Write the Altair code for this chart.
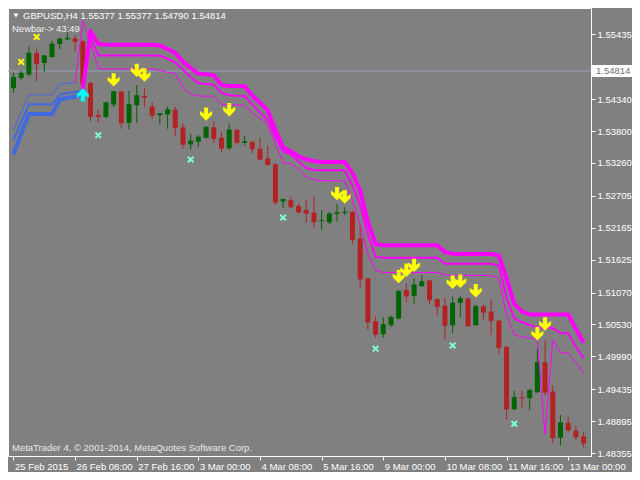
import altair as alt
import pandas as pd

# ---------------- data (GBPUSD H4) ----------------
opens = [1.54523, 1.54697, 1.54754, 1.55117, 1.54952, 1.55051, 1.55270, 1.55348, 1.55369, 1.55315,
         1.54610, 1.54070, 1.54037, 1.54247, 1.54466, 1.53938, 1.54236, 1.54391, 1.54214, 1.54070,
         1.54082, 1.54160, 1.53863, 1.53575, 1.53620, 1.53686, 1.53863, 1.53686, 1.53509, 1.53818,
         1.53599, 1.53620, 1.53500, 1.53335, 1.53236, 1.52609, 1.52630, 1.52531, 1.52465, 1.52420,
         1.52279, 1.52255, 1.52399, 1.52420, 1.52432, 1.51982, 1.51310, 1.50584, 1.50365, 1.50518,
         1.50629, 1.51112, 1.51013, 1.51178, 1.51277, 1.50959, 1.50848, 1.50518, 1.50893, 1.50968,
         1.50518, 1.50836, 1.50749, 1.50596, 1.50155, 1.49099, 1.49297, 1.49286, 1.49384, 1.49891,
         1.49396, 1.48616, 1.48868, 1.48736, 1.48637]
highs = [1.54787, 1.54820, 1.55237, 1.55192, 1.55084, 1.55324, 1.55381, 1.55468, 1.55423, 1.55336,
         1.54631, 1.54160, 1.54280, 1.54478, 1.54478, 1.54478, 1.54577, 1.54523, 1.54292, 1.54094,
         1.54214, 1.54214, 1.53929, 1.53752, 1.53731, 1.53884, 1.53962, 1.53785, 1.53929, 1.53839,
         1.53719, 1.53620, 1.53686, 1.53554, 1.53257, 1.52663, 1.52685, 1.52576, 1.52630, 1.52696,
         1.52465, 1.52432, 1.52564, 1.52510, 1.52453, 1.52234, 1.51310, 1.50671, 1.50650, 1.50683,
         1.51112, 1.51223, 1.51310, 1.51364, 1.51289, 1.50968, 1.50980, 1.51001, 1.51013, 1.50992,
         1.50860, 1.50869, 1.50959, 1.50605, 1.50155, 1.49408, 1.49408, 1.49441, 1.50122, 1.50266,
         1.49507, 1.49000, 1.48967, 1.48814, 1.48715]
lows = [1.54445, 1.54655, 1.54721, 1.54643, 1.54796, 1.55039, 1.55183, 1.55336, 1.55150, 1.54577,
        1.53962, 1.53950, 1.54016, 1.54202, 1.53839, 1.53830, 1.53938, 1.54202, 1.54004, 1.53906,
        1.53839, 1.53707, 1.53500, 1.53488, 1.53533, 1.53674, 1.53599, 1.53434, 1.53476, 1.53566,
        1.53554, 1.53422, 1.53302, 1.53212, 1.52552, 1.52498, 1.52498, 1.52411, 1.52246, 1.52168,
        1.52135, 1.52222, 1.52267, 1.52378, 1.51892, 1.51145, 1.50440, 1.50308, 1.50308, 1.50485,
        1.50617, 1.50902, 1.50881, 1.51166, 1.50869, 1.50683, 1.50275, 1.50386, 1.50650, 1.50497,
        1.50506, 1.50605, 1.50353, 1.50035, 1.48922, 1.49078, 1.49132, 1.49087, 1.49375, 1.49330,
        1.48526, 1.48484, 1.48703, 1.48583, 1.48451]
closes = [1.54709, 1.54775, 1.55117, 1.54940, 1.55072, 1.55270, 1.55357, 1.55369, 1.55315, 1.54598,
          1.54049, 1.54049, 1.54280, 1.54466, 1.53938, 1.54247, 1.54400, 1.54367, 1.54070, 1.54094,
          1.54160, 1.53863, 1.53575, 1.53632, 1.53698, 1.53863, 1.53674, 1.53509, 1.53818, 1.53608,
          1.53620, 1.53500, 1.53323, 1.53236, 1.52597, 1.52642, 1.52519, 1.52432, 1.52411, 1.52267,
          1.52288, 1.52399, 1.52420, 1.52432, 1.51970, 1.51298, 1.50572, 1.50365, 1.50530, 1.50650,
          1.51091, 1.51013, 1.51199, 1.51256, 1.50947, 1.50836, 1.50518, 1.50893, 1.50968, 1.50506,
          1.50836, 1.50737, 1.50596, 1.50143, 1.49099, 1.49297, 1.49286, 1.49417, 1.49891, 1.49384,
          1.48616, 1.48868, 1.48748, 1.48630, 1.48526]

# indicator bands (downtrend, magenta) -- thick / medium / thin
mag_thick_start = 9
mag_thick = [1.54511, 1.55493, 1.55270,
             1.55258, 1.55258, 1.55258, 1.55258, 1.55258, 1.55258, 1.55258,
             1.55245, 1.55188, 1.55122, 1.54973, 1.54866, 1.54767, 1.54759, 1.54742, 1.54577, 1.54561,
             1.54561, 1.54556, 1.54396, 1.54280, 1.54148, 1.53818, 1.53521, 1.53455, 1.53373, 1.53323,
             1.53290, 1.53278, 1.53278, 1.53278, 1.53278, 1.53092, 1.52795, 1.52267, 1.51888,
             1.51871, 1.51871, 1.51871, 1.51871, 1.51871, 1.51871, 1.51871, 1.51871,
             1.51756, 1.51723, 1.51723, 1.51723, 1.51723, 1.51723, 1.51723,
             1.51698, 1.51310, 1.50881, 1.50749,
             1.50700, 1.50700, 1.50700, 1.50700, 1.50700, 1.50700, 1.50452, 1.50221]
mag_mid_start = 9
mag_mid = [1.54511, 1.55386, 1.55077,
           1.55077, 1.55077, 1.55077, 1.55077, 1.55077, 1.55077, 1.55077,
           1.55072, 1.55023, 1.54957, 1.54841, 1.54709, 1.54610, 1.54594, 1.54585, 1.54445, 1.54404,
           1.54396, 1.54391, 1.54247, 1.54115, 1.53983, 1.53703, 1.53455, 1.53406, 1.53290, 1.53175,
           1.53142, 1.53137, 1.53137, 1.53137, 1.53137, 1.52878, 1.52548, 1.52053, 1.51673,
           1.51657, 1.51657, 1.51657, 1.51657, 1.51657, 1.51657, 1.51657, 1.51657,
           1.51558, 1.51558, 1.51558, 1.51558, 1.51558, 1.51558, 1.51558,
           1.51525, 1.50980, 1.50634, 1.50568,
           1.50518, 1.50477, 1.50473, 1.50469, 1.50386, 1.50378, 1.50155, 1.49957]
mag_thin_start = 8
mag_thin = [1.54610, 1.55666, 1.55287, 1.54858,
            1.54849, 1.54849, 1.54849, 1.54849, 1.54849, 1.54849, 1.54849,
            1.54825, 1.54792, 1.54775, 1.54528, 1.54429, 1.54391, 1.54391, 1.54391, 1.54252, 1.54247,
            1.54239, 1.54235, 1.54099, 1.54016, 1.53917, 1.53587, 1.53262, 1.53249, 1.53158, 1.53026,
            1.52977, 1.52960, 1.52960, 1.52960, 1.52960, 1.52630, 1.52218, 1.51723, 1.51442,
            1.51409, 1.51409, 1.51409, 1.51409, 1.51409, 1.51409, 1.51409, 1.51409,
            1.51368, 1.51360, 1.51360, 1.51360, 1.51360, 1.51360, 1.51360,
            1.51310, 1.50683, 1.50353, 1.50320,
            1.50304, 1.50287, 1.48670, 1.50271, 1.50056, 1.50044, 1.49891, 1.49710]

# indicator bands (uptrend, blue) from bar 0
blue_thin = [1.53818, 1.54115, 1.54412, 1.54412, 1.54412, 1.54412, 1.54594, 1.54610, 1.54610]
blue_mid = [1.53653, 1.53950, 1.54252, 1.54252, 1.54252, 1.54252, 1.54412, 1.54445, 1.54462, 1.54478]
blue_thick = [1.53406, 1.53752, 1.54087, 1.54087, 1.54087, 1.54087, 1.54330, 1.54363, 1.54379, 1.54429]

# signal arrows
down_bars = [13, 16, 17, 25, 28, 42, 43, 50, 51, 52, 57, 58, 60, 68, 69]
down_vals = [1.54664, 1.54825, 1.54747, 1.54087, 1.54160, 1.52741, 1.52685, 1.51338, 1.51447,
             1.51529, 1.51244, 1.51261, 1.51100, 1.50374, 1.50539]
up_bars = [9]
up_vals = [1.54412]
# cross markers
yellow_x_bars = [1, 3]
yellow_x_vals = [1.54968, 1.55390]
aqua_x_bars = [11, 23, 35, 47, 57, 65]
aqua_x_vals = [1.53731, 1.53318, 1.52338, 1.50122, 1.50177, 1.48852]

bid_price = 1.54814
price_ticks = [1.55435, 1.54880, 1.54340, 1.53800, 1.53260, 1.52705, 1.52165,
               1.51625, 1.51070, 1.50530, 1.49990, 1.49435, 1.48895, 1.48355]
time_ticks = [0, 8, 16, 24, 32, 40, 48, 56, 64, 72]
time_labels = ["25 Feb 2015", "26 Feb 08:00", "27 Feb 16:00", "3 Mar 00:00", "4 Mar 08:00",
               "5 Mar 16:00", "9 Mar 00:00", "10 Mar 08:00", "11 Mar 16:00", "13 Mar 00:00"]
title_text = "GBPUSD,H4  1.55377 1.55377 1.54790 1.54814"
newbar_text = "Newbar-> 43:49"
copyright_text = "MetaTrader 4, \u00a9 2001-2014, MetaQuotes Software Corp."

# ---------------- styling ----------------
BG = "#808080"
GREEN = "#006400"
RED = "#B22222"
MAGENTA = "#FF00FF"
BLUE = "#4169E1"
YELLOW = "#FFFF00"
CYAN = "#00FFFF"
AQUA = "#7FFFD4"
FONT = "Liberation Sans"
FS = 9.5

W, H = 583, 448
PAD_R, PAD_B = 41, 16
xsc = alt.Scale(domain=[-0.0625, 74.3125], nice=False, zero=False)
ysc = alt.Scale(domain=[1.48307, 1.55880], nice=False, zero=False)

label_js = "[" + ",".join("'%s'" % s for s in time_labels) + "]"
xaxis = alt.Axis(values=time_ticks, labelExpr=label_js + "[round(datum.value/8)]",
                 labelAlign="left", labelBaseline="top", labelColor="white",
                 tickColor="white", tickSize=4, domain=False, grid=False, title=None,
                 labelFont=FONT, labelFontSize=FS, labelPadding=1, labelOverlap=False,
                 labelFlush=False, labelOffset=1)
yaxis = alt.Axis(orient="right", values=price_ticks, format=".5f", labelColor="white",
                 tickColor="white", tickSize=4, domain=False, grid=False, title=None,
                 labelFont=FONT, labelFontSize=FS, labelPadding=2, labelOverlap=False,
                 labelAlign="left", labelBaseline="middle")

X = lambda f: alt.X(f, type="quantitative", scale=xsc, axis=xaxis)
Y = lambda f: alt.Y(f, type="quantitative", scale=ysc, axis=yaxis)

candles = pd.DataFrame({"i": list(range(len(opens))), "o": opens, "h": highs,
                        "l": lows, "c": closes})
candles["dir"] = ["up" if c >= o else "down" for o, c in zip(opens, closes)]
col = alt.Color("dir:N", scale=alt.Scale(domain=["up", "down"], range=[GREEN, RED]), legend=None)

def series(start, vals):
    return pd.DataFrame({"i": list(range(start, start + len(vals))), "v": vals})

def line(start, vals, color, width):
    return alt.Chart(series(start, vals)).mark_line(
        color=color, strokeWidth=width, clip=True, strokeJoin="round"
    ).encode(x=X("i"), y=Y("v"))

def points(bars, vals, shape, color, size):
    return alt.Chart(pd.DataFrame({"i": bars, "v": vals})).mark_point(
        shape=shape, filled=True, color=color, size=size, opacity=1, strokeWidth=0, clip=True
    ).encode(x=X("i"), y=Y("v"))

ARROW_DOWN = "M -0.3 -1 L 0.3 -1 L 0.3 -0.05 L 0.9 -0.45 L 0.9 0.1 L 0 1 L -0.9 0.1 L -0.9 -0.45 L -0.3 -0.05 Z"
ARROW_UP = "M -0.3 1 L 0.3 1 L 0.3 0.05 L 0.9 0.45 L 0.9 -0.1 L 0 -1 L -0.9 -0.1 L -0.9 0.45 L -0.3 0.05 Z"
XMARK = ("M -1 -0.6 L -0.6 -1 L 0 -0.4 L 0.6 -1 L 1 -0.6 L 0.4 0 L 1 0.6 L 0.6 1 "
         "L 0 0.4 L -0.6 1 L -1 0.6 L -0.4 0 Z")
BOX = "M -1 -0.29 L 1 -0.29 L 1 0.29 L -1 0.29 Z"

bid_df = pd.DataFrame({"v": [bid_price], "t": ["%.5f" % bid_price]})
bid_line = alt.Chart(bid_df).mark_rule(color="#93A0B4", strokeWidth=1).encode(y=Y("v"))

wicks = alt.Chart(candles).mark_rule(strokeWidth=1, clip=True).encode(
    x=X("i"), y=Y("l"), y2="h", color=col)
bodies = alt.Chart(candles).mark_bar(size=5, clip=True).encode(
    x=X("i"), y=Y("o"), y2="c", color=col)
caps = alt.Chart(candles).mark_tick(orient="horizontal", size=5, thickness=1, clip=True).encode(
    x=X("i"), y=Y("c"), color=col)

layers = [
    bid_line,
    wicks, bodies, caps,
    line(0, blue_thin, BLUE, 1), line(0, blue_mid, BLUE, 2), line(0, blue_thick, BLUE, 4),
    line(mag_thin_start, mag_thin, MAGENTA, 1),
    line(mag_mid_start, mag_mid, MAGENTA, 2),
    line(mag_thick_start, mag_thick, MAGENTA, 4),
    points(down_bars, down_vals, ARROW_DOWN, YELLOW, 178),
    points(up_bars, up_vals, ARROW_UP, CYAN, 178),
    points(yellow_x_bars, yellow_x_vals, XMARK, YELLOW, 49),
    points(aqua_x_bars, aqua_x_vals, XMARK, AQUA, 49),
]

one = pd.DataFrame({"a": [0]})
tri = alt.Chart(one).mark_point(shape="triangle-down", filled=True, color="white",
                                size=24, opacity=1).encode(x=alt.value(8), y=alt.value(7.5))
def label(text, x, y, color, size=FS):
    return alt.Chart(pd.DataFrame({"t": [text]})).mark_text(
        align="left", baseline="middle", font=FONT, fontSize=size, color=color
    ).encode(x=alt.value(x), y=alt.value(y), text="t:N")

layers += [tri,
           label(title_text, 15, 7.5, "white"),
           label(newbar_text, 4, 20.5, "#F0F0F0"),
           label(copyright_text, 4, 440, "#E8E8E8")]

bid_box = alt.Chart(bid_df).mark_point(shape=BOX, filled=True, color="white",
                                       size=(PAD_R) ** 2, opacity=1, strokeWidth=0).encode(
    x=alt.value(W + PAD_R / 2), y=Y("v"))
bid_txt = alt.Chart(bid_df).mark_text(align="left", baseline="middle", font=FONT,
                                      fontSize=FS, color="#707070").encode(
    x=alt.value(W + 5), y=Y("v"), text="t:N")
layers += [bid_box, bid_txt]

chart = alt.layer(*layers).properties(
    width=W, height=H, background=BG,
    padding={"left": 0, "top": 0, "right": PAD_R, "bottom": PAD_B},
    autosize=alt.AutoSizeParams(type="none"),
).configure_view(stroke="white", strokeWidth=1)

chart.save("out.html", embed_options={"renderer": "svg", "actions": False})
